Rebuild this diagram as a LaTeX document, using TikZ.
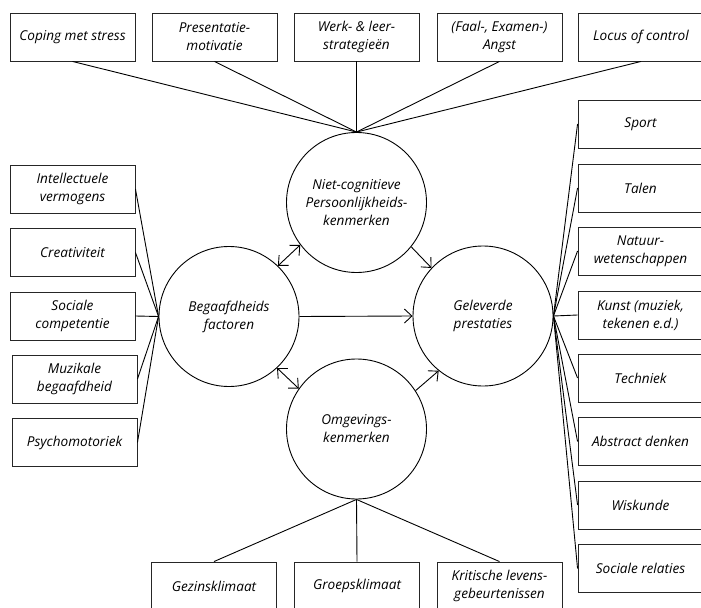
\documentclass[tikz,border=0pt]{standalone}
\usepackage{fontspec}
\setmainfont{Open Sans}
\usetikzlibrary{arrows.meta}
\begin{document}
\begin{tikzpicture}[x=1bp,y=-1bp,
  every node/.style={font=\fontsize{13.6bp}{18bp}\selectfont\itshape},
  box/.style={draw=black!85, line width=0.9bp, rectangle, minimum width=125bp, minimum height=48bp, inner sep=1bp, align=center, text=black},
  circ/.style={draw=black, line width=0.9bp, circle, minimum size=140bp, inner sep=0pt, align=center, text=black},
  link/.style={draw=black, line width=0.9bp},
  tip/.tip={Straight Barb[length=7.5bp,width=14bp,line width=0.9bp]},
  arr/.style={link, -tip},
  darr/.style={link, tip-tip}
]
\useasboundingbox (0,0) rectangle (701,608);
% circles
\node[circ] (niet) at (356.5,202.5) {Niet-cognitieve\\Persoonlijkheids-\\kenmerken};
\node[circ] (beg) at (229,316.5) {Begaafdheids\\factoren};
\node[circ] (gel) at (483,316) {Geleverde\\prestaties};
\node[circ] (omg) at (356.5,429) {Omgevings-\\kenmerken};
% top boxes
\node[box] (t1) at (72.5,37) {Coping met stress};
\node[box] (t2) at (214.5,37) {Presentatie-\\motivatie};
\node[box] (t3) at (356.5,37) {Werk- \& leer-\\strategieën};
\node[box] (t4) at (499.5,37) {(Faal-, Examen-)\\Angst};
\node[box] (t5) at (641,37) {Locus of control};
% left boxes
\node[box] (l1) at (72.5,189) {Intellectuele\\vermogens};
\node[box] (l2) at (72.5,252.5) {Creativiteit};
\node[box] (l3) at (72.5,316) {Sociale\\competentie};
\node[box] (l4) at (74.5,379) {Muzikale\\begaafdheid};
\node[box] (l5) at (74.5,442.5) {Psychomotoriek};
% right boxes
\node[box] (r1) at (640.5,124) {Sport};
\node[box] (r2) at (640.5,188) {Talen};
\node[box] (r3) at (640.5,251) {Natuur-\\wetenschappen};
\node[box] (r4) at (640.5,315) {Kunst (muziek,\\tekenen e.d.)};
\node[box] (r5) at (640.5,378) {Techniek};
\node[box] (r6) at (640.5,441.5) {Abstract denken};
\node[box] (r7) at (640.5,505) {Wiskunde};
\node[box] (r8) at (640.5,568.5) {Sociale relaties};
% bottom boxes
\node[box] (b1) at (214,586) {Gezinsklimaat};
\node[box] (b2) at (357,586) {Groepsklimaat};
\node[box] (b3) at (499.5,586) {Kritische levens-\\gebeurtenissen};
% connectors
\foreach \n in {t1,t2,t3,t4,t5} \draw[link] (\n.south) -- (niet.north);
\foreach \n in {l1,l2,l3,l4,l5} \draw[link] (\n.east) -- (beg.west);
\foreach \n in {r1,r2,r3,r4,r5,r6,r7,r8} \draw[link] (gel.east) -- (\n.west);
\foreach \n in {b1,b2,b3} \draw[link] (omg.south) -- (\n.north);
\draw[arr] (beg.east) -- (gel.west);
\draw[darr] (beg.46) -- (niet.217);
\draw[darr] (beg.-47) -- (omg.145);
\draw[arr] (niet.-39) -- (gel.137);
\draw[arr] (omg.33) -- (gel.231);
\end{tikzpicture}
\end{document}
